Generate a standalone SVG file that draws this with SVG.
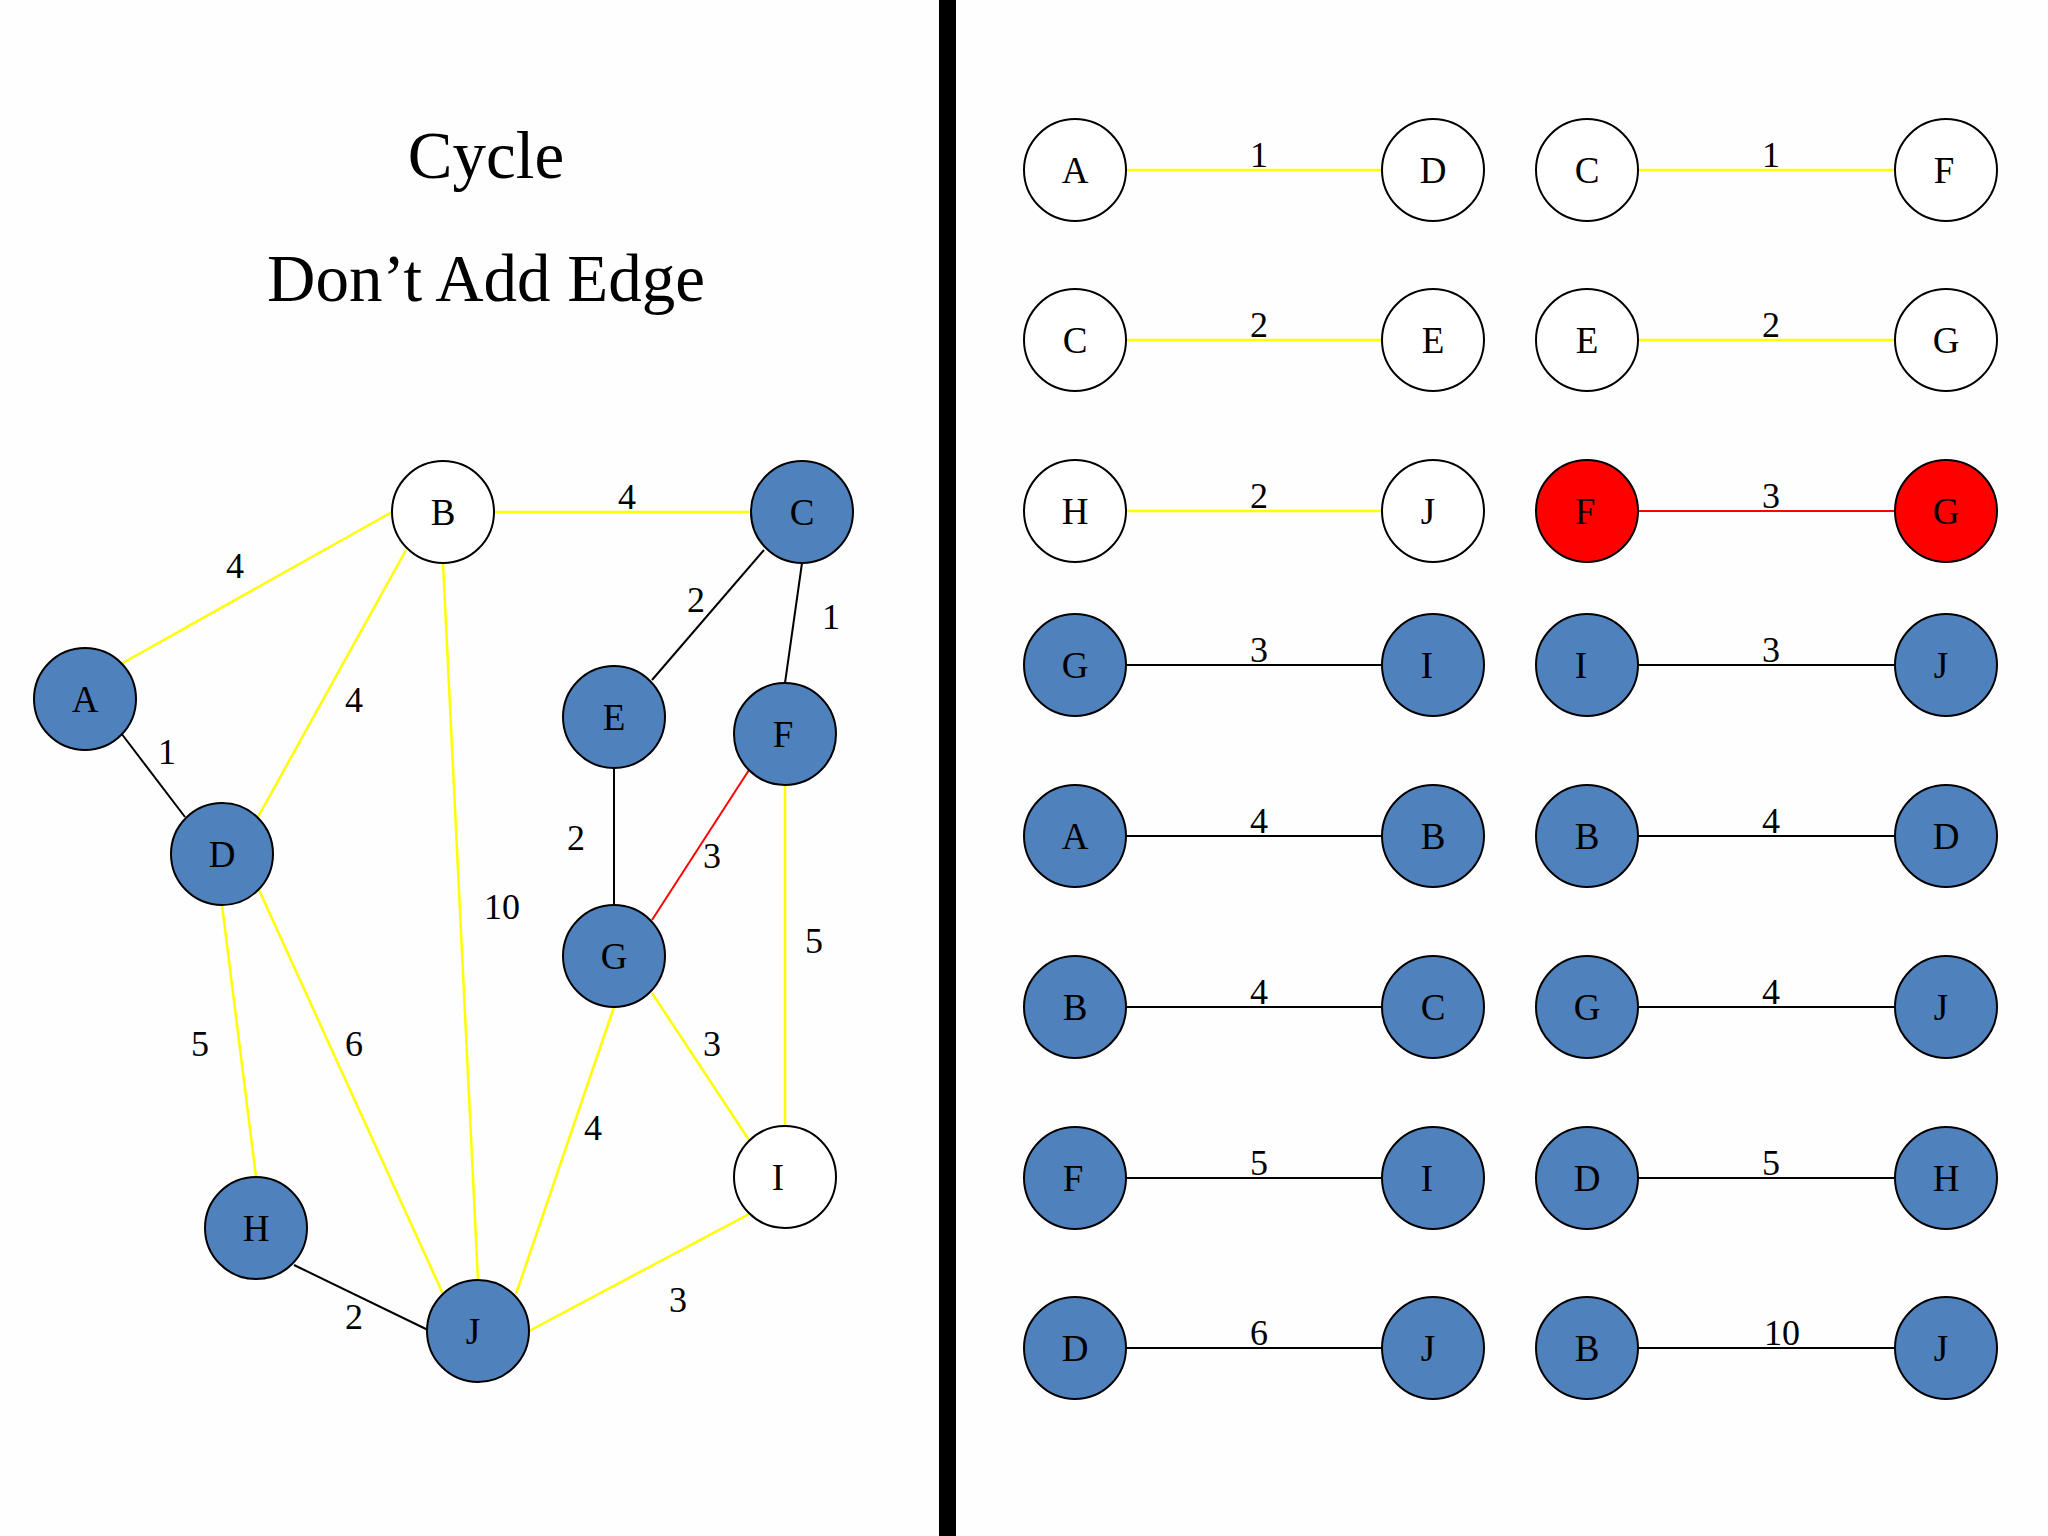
<svg xmlns="http://www.w3.org/2000/svg" width="2048" height="1536" viewBox="0 0 2048 1536">
<style>
text{font-family:"Liberation Serif","Times New Roman",serif;fill:#000;text-anchor:middle}
.title{font-size:67px}
.lbl{font-size:36px}
.nl{font-size:37px}
.n{stroke:#000;stroke-width:2}
.blue{fill:#4F81BD}
.white{fill:#FFFFFF}
.red{fill:#FF0000}
.ey{stroke:#FFFF00;stroke-width:2.5;fill:none}
.ek{stroke:#000;stroke-width:2;fill:none}
.er{stroke:#FF0000;stroke-width:2;fill:none}
</style>
<rect x="0" y="0" width="2048" height="1536" fill="#FEFEFE"/>
<rect x="939" y="0" width="17" height="1536" fill="#000"/>
<g id="title">
<text class="title" x="486" y="178">Cycle</text>
<text class="title" x="486" y="301">Don’t Add Edge</text>
</g>
<g id="connectors">
<line class="ey" x1="121" y1="664" x2="392" y2="512"/>
<line class="ey" x1="494" y1="512" x2="751" y2="512"/>
<line class="ey" x1="406" y1="550" x2="258" y2="817"/>
<line class="ey" x1="443" y1="563" x2="478" y2="1280"/>
<line class="ek" x1="764" y1="550" x2="652" y2="680"/>
<line class="ek" x1="802" y1="563" x2="785" y2="683"/>
<line class="ek" x1="121" y1="733" x2="185" y2="817"/>
<line class="ek" x1="614" y1="768" x2="614" y2="905"/>
<line class="er" x1="749" y1="770" x2="652" y2="920"/>
<line class="ey" x1="785" y1="785" x2="785" y2="1126"/>
<line class="ey" x1="222" y1="905" x2="256" y2="1177"/>
<line class="ey" x1="259" y1="890" x2="443" y2="1294"/>
<line class="ey" x1="614" y1="1007" x2="516" y2="1294"/>
<line class="ey" x1="652" y1="993" x2="749" y2="1140"/>
<line class="ey" x1="749" y1="1214" x2="529" y2="1331"/>
<line class="ek" x1="294" y1="1265" x2="428" y2="1330"/>
<text class="lbl" x="627" y="509">4</text>
<text class="lbl" x="235" y="578">4</text>
<text class="lbl" x="354" y="712">4</text>
<text class="lbl" x="696" y="612">2</text>
<text class="lbl" x="831" y="629">1</text>
<text class="lbl" x="167" y="764">1</text>
<text class="lbl" x="576" y="850">2</text>
<text class="lbl" x="712" y="868">3</text>
<text class="lbl" x="502" y="919">10</text>
<text class="lbl" x="814" y="953">5</text>
<text class="lbl" x="200" y="1056">5</text>
<text class="lbl" x="354" y="1056">6</text>
<text class="lbl" x="712" y="1056">3</text>
<text class="lbl" x="593" y="1140">4</text>
<text class="lbl" x="354" y="1329">2</text>
<text class="lbl" x="678" y="1312">3</text>
</g>
<g id="node-A"><circle class="n blue" cx="85" cy="699" r="51"/><text class="nl" x="85" y="712">A</text></g>
<g id="node-B"><circle class="n white" cx="443" cy="512" r="51"/><text class="nl" x="443" y="525">B</text></g>
<g id="node-C"><circle class="n blue" cx="802" cy="512" r="51"/><text class="nl" x="802" y="525">C</text></g>
<g id="node-D"><circle class="n blue" cx="222" cy="854" r="51"/><text class="nl" x="222" y="867">D</text></g>
<g id="node-E"><circle class="n blue" cx="614" cy="717" r="51"/><text class="nl" x="614" y="730">E</text></g>
<g id="node-F"><circle class="n blue" cx="785" cy="734" r="51"/><text class="nl" x="783" y="747">F</text></g>
<g id="node-G"><circle class="n blue" cx="614" cy="956" r="51"/><text class="nl" x="614" y="969">G</text></g>
<g id="node-H"><circle class="n blue" cx="256" cy="1228" r="51"/><text class="nl" x="256" y="1241">H</text></g>
<g id="node-I"><circle class="n white" cx="785" cy="1177" r="51"/><text class="nl" x="778" y="1190">I</text></g>
<g id="node-J"><circle class="n blue" cx="478" cy="1331" r="51"/><text class="nl" x="473" y="1344">J</text></g>

<g id="list-connectors">
<line class="ey" x1="1126" y1="170" x2="1382" y2="170"/>
<line class="ey" x1="1638" y1="170" x2="1895" y2="170"/>
<line class="ey" x1="1126" y1="340" x2="1382" y2="340"/>
<line class="ey" x1="1638" y1="340" x2="1895" y2="340"/>
<line class="ey" x1="1126" y1="511" x2="1382" y2="511"/>
<line class="er" x1="1638" y1="511" x2="1895" y2="511"/>
<line class="ek" x1="1126" y1="665" x2="1382" y2="665"/>
<line class="ek" x1="1638" y1="665" x2="1895" y2="665"/>
<line class="ek" x1="1126" y1="836" x2="1382" y2="836"/>
<line class="ek" x1="1638" y1="836" x2="1895" y2="836"/>
<line class="ek" x1="1126" y1="1007" x2="1382" y2="1007"/>
<line class="ek" x1="1638" y1="1007" x2="1895" y2="1007"/>
<line class="ek" x1="1126" y1="1178" x2="1382" y2="1178"/>
<line class="ek" x1="1638" y1="1178" x2="1895" y2="1178"/>
<line class="ek" x1="1126" y1="1348" x2="1382" y2="1348"/>
<line class="ek" x1="1638" y1="1348" x2="1895" y2="1348"/>
<text class="lbl" x="1259" y="167">1</text>
<text class="lbl" x="1771" y="167">1</text>
<text class="lbl" x="1259" y="337">2</text>
<text class="lbl" x="1771" y="337">2</text>
<text class="lbl" x="1259" y="508">2</text>
<text class="lbl" x="1771" y="508">3</text>
<text class="lbl" x="1259" y="662">3</text>
<text class="lbl" x="1771" y="662">3</text>
<text class="lbl" x="1259" y="833">4</text>
<text class="lbl" x="1771" y="833">4</text>
<text class="lbl" x="1259" y="1004">4</text>
<text class="lbl" x="1771" y="1004">4</text>
<text class="lbl" x="1259" y="1175">5</text>
<text class="lbl" x="1771" y="1175">5</text>
<text class="lbl" x="1259" y="1345">6</text>
<text class="lbl" x="1782" y="1345">10</text>
</g>

<g id="r1-A"><circle class="n white" cx="1075" cy="170" r="51"/><text class="nl" x="1075" y="183">A</text></g>
<g id="r1-D"><circle class="n white" cx="1433" cy="170" r="51"/><text class="nl" x="1433" y="183">D</text></g>
<g id="r1-C"><circle class="n white" cx="1587" cy="170" r="51"/><text class="nl" x="1587" y="183">C</text></g>
<g id="r1-F"><circle class="n white" cx="1946" cy="170" r="51"/><text class="nl" x="1944" y="183">F</text></g>

<g id="r2-C"><circle class="n white" cx="1075" cy="340" r="51"/><text class="nl" x="1075" y="353">C</text></g>
<g id="r2-E"><circle class="n white" cx="1433" cy="340" r="51"/><text class="nl" x="1433" y="353">E</text></g>
<g id="r2-E2"><circle class="n white" cx="1587" cy="340" r="51"/><text class="nl" x="1587" y="353">E</text></g>
<g id="r2-G"><circle class="n white" cx="1946" cy="340" r="51"/><text class="nl" x="1946" y="353">G</text></g>

<g id="r3-H"><circle class="n white" cx="1075" cy="511" r="51"/><text class="nl" x="1075" y="524">H</text></g>
<g id="r3-J"><circle class="n white" cx="1433" cy="511" r="51"/><text class="nl" x="1428" y="524">J</text></g>
<g id="r3-F"><circle class="n red" cx="1587" cy="511" r="51"/><text class="nl" x="1585" y="524">F</text></g>
<g id="r3-G"><circle class="n red" cx="1946" cy="511" r="51"/><text class="nl" x="1946" y="524">G</text></g>

<g id="r4-G"><circle class="n blue" cx="1075" cy="665" r="51"/><text class="nl" x="1075" y="678">G</text></g>
<g id="r4-I"><circle class="n blue" cx="1433" cy="665" r="51"/><text class="nl" x="1427" y="678">I</text></g>
<g id="r4-I2"><circle class="n blue" cx="1587" cy="665" r="51"/><text class="nl" x="1581" y="678">I</text></g>
<g id="r4-J"><circle class="n blue" cx="1946" cy="665" r="51"/><text class="nl" x="1941" y="678">J</text></g>

<g id="r5-A"><circle class="n blue" cx="1075" cy="836" r="51"/><text class="nl" x="1075" y="849">A</text></g>
<g id="r5-B"><circle class="n blue" cx="1433" cy="836" r="51"/><text class="nl" x="1433" y="849">B</text></g>
<g id="r5-B2"><circle class="n blue" cx="1587" cy="836" r="51"/><text class="nl" x="1587" y="849">B</text></g>
<g id="r5-D"><circle class="n blue" cx="1946" cy="836" r="51"/><text class="nl" x="1946" y="849">D</text></g>

<g id="r6-B"><circle class="n blue" cx="1075" cy="1007" r="51"/><text class="nl" x="1075" y="1020">B</text></g>
<g id="r6-C"><circle class="n blue" cx="1433" cy="1007" r="51"/><text class="nl" x="1433" y="1020">C</text></g>
<g id="r6-G"><circle class="n blue" cx="1587" cy="1007" r="51"/><text class="nl" x="1587" y="1020">G</text></g>
<g id="r6-J"><circle class="n blue" cx="1946" cy="1007" r="51"/><text class="nl" x="1941" y="1020">J</text></g>

<g id="r7-F"><circle class="n blue" cx="1075" cy="1178" r="51"/><text class="nl" x="1073" y="1191">F</text></g>
<g id="r7-I"><circle class="n blue" cx="1433" cy="1178" r="51"/><text class="nl" x="1427" y="1191">I</text></g>
<g id="r7-D"><circle class="n blue" cx="1587" cy="1178" r="51"/><text class="nl" x="1587" y="1191">D</text></g>
<g id="r7-H"><circle class="n blue" cx="1946" cy="1178" r="51"/><text class="nl" x="1946" y="1191">H</text></g>

<g id="r8-D"><circle class="n blue" cx="1075" cy="1348" r="51"/><text class="nl" x="1075" y="1361">D</text></g>
<g id="r8-J"><circle class="n blue" cx="1433" cy="1348" r="51"/><text class="nl" x="1428" y="1361">J</text></g>
<g id="r8-B"><circle class="n blue" cx="1587" cy="1348" r="51"/><text class="nl" x="1587" y="1361">B</text></g>
<g id="r8-J2"><circle class="n blue" cx="1946" cy="1348" r="51"/><text class="nl" x="1941" y="1361">J</text></g>
</svg>
